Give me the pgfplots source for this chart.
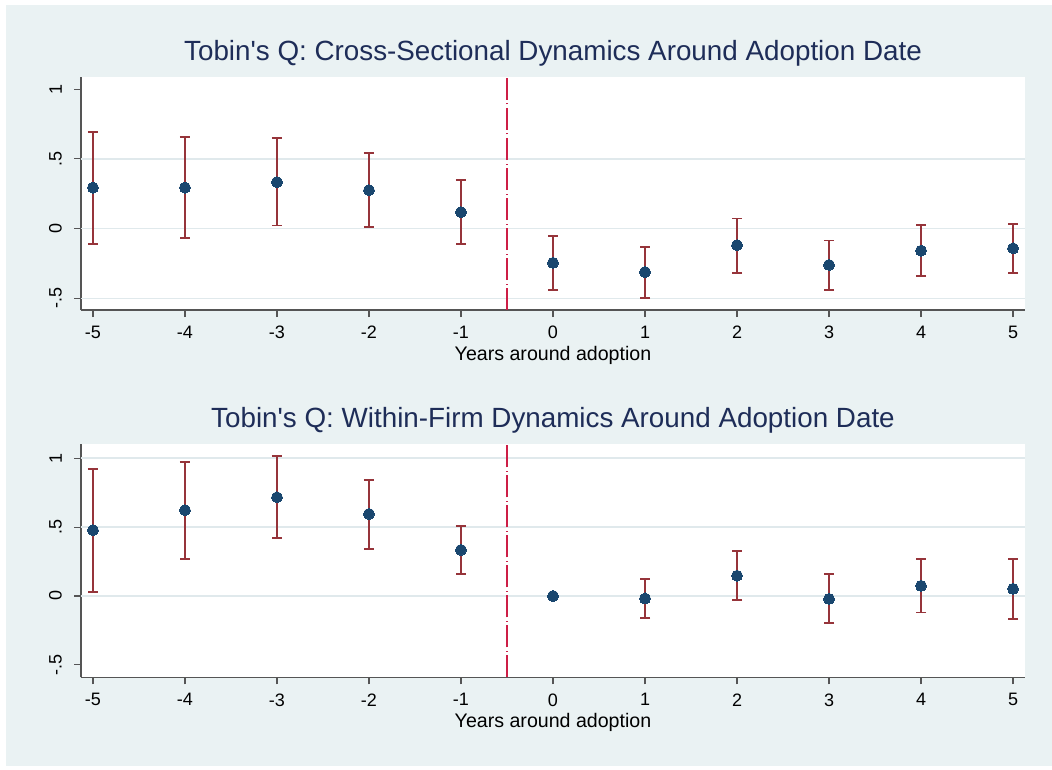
\documentclass[border=0pt]{standalone}
\usepackage{pgfplots}
\pgfplotsset{compat=1.18}
\usepackage{pgfplotstable}
\usepackage{fontspec}
\setmainfont{Liberation Sans}[Ligatures=TeXOff]
\definecolor{bgc}{RGB}{234,242,243}
\definecolor{gridc}{RGB}{224,233,236}
\definecolor{axisc}{RGB}{85,85,85}
\definecolor{navyc}{RGB}{26,71,111}
\definecolor{maroonc}{RGB}{150,52,58}
\definecolor{cranc}{RGB}{205,30,70}
\definecolor{titlec}{RGB}{30,45,88}

\pgfplotstableread{
x y ep em
-5 0.294 0.400 0.402
-4 0.294 0.364 0.363
-3 0.333 0.315 0.311
-2 0.275 0.266 0.265
-1 0.118 0.229 0.226
0 -0.245 0.194 0.194
1 -0.311 0.180 0.184
2 -0.119 0.191 0.197
3 -0.260 0.175 0.179
4 -0.158 0.185 0.184
5 -0.141 0.173 0.175
}\topdata

\pgfplotstableread{
x y ep em
-5 0.477 0.447 0.448
-4 0.622 0.350 0.354
-3 0.716 0.298 0.297
-2 0.595 0.249 0.252
-1 0.334 0.174 0.177
0 0.000 0.000 0.000
1 -0.018 0.139 0.140
2 0.147 0.177 0.177
3 -0.021 0.178 0.173
4 0.074 0.194 0.194
5 0.052 0.214 0.217
}\botdata

\pgfplotsset{
  stata/.style={
    scale only axis, width=944pt, height=233.5pt,
    xmin=-5.13, xmax=5.13,
    axis x line*=bottom, axis y line*=left,
    axis line style={draw=axisc, line width=1.1pt},
    axis background/.style={fill=white},
    tick align=outside, major tick length=7pt,
    tick style={draw=axisc, line width=1.1pt},
    xtick={-5,-4,-3,-2,-1,0,1,2,3,4,5},
    xticklabels={-5,-4,-3,-2,-1,0,1,2,3,4,5},
    xticklabel style={anchor=north, inner sep=0pt, yshift=-9pt, font=\fontsize{18}{21}\selectfont},
    yticklabel style={rotate=90, anchor=south, inner sep=0pt, xshift=0pt, yshift=12pt, font=\fontsize{18}{21}\selectfont},
    ymajorgrids=false, xmajorgrids=false,
    extra y tick style={grid=major},
    major grid style={draw=gridc, line width=1.6pt},
    xlabel={Years around adoption},
    xlabel style={at={(axis description cs:0.5,0)}, anchor=north, inner sep=0pt, yshift=-36pt, font=\fontsize{19.6}{22}\selectfont},
    title style={at={(axis description cs:0.5,1)}, anchor=base, inner sep=0pt, yshift=10.5pt, font=\fontsize{27.8}{32}\selectfont, text=titlec},
    clip=false,
  },
  ebars/.style={
    draw=none, mark=none, forget plot,
    error bars/.cd, y dir=both, y explicit,
    error bar style={draw=maroonc, line width=1.8pt},
    error mark options={draw=maroonc, line width=1.8pt, mark size=5pt, rotate=90},
  },
  dots/.style={only marks, mark=*, mark size=5.5pt, mark options={fill=navyc, draw=navyc, line width=0pt}},
  vline/.style={cranc, line width=2pt, dash pattern=on 22pt off 3.5pt on 1pt off 3.5pt, forget plot},
}

\begin{document}
\begin{tikzpicture}[x=1pt,y=1pt]
\fill[white] (0,0) rectangle (1052,-770);
\fill[bgc] (6,-5) rectangle (1052,-766);

\begin{axis}[stata, at={(81pt,-310pt)}, anchor=south west,
  ymin=-0.583, ymax=1.09,
  ytick={1}, yticklabels={1},
  extra y ticks={-0.5,0,0.5}, extra y tick labels={-.5,0,.5},
  title={Tobin's Q: Cross-Sectional Dynamics Around Adoption Date}]
\addplot[vline] coordinates {(-0.5,-0.583) (-0.5,1.09)};
\addplot[ebars] table[x=x, y=y, y error plus=ep, y error minus=em] {\topdata};
\addplot[dots] table[x=x, y=y] {\topdata};
\end{axis}

\begin{axis}[stata, at={(81pt,-677.3pt)}, anchor=south west,
  ymin=-0.590, ymax=1.104,
  ytick={-0.5}, yticklabels={-.5},
  extra y ticks={0,0.5,1}, extra y tick labels={0,.5,1},
  title={Tobin's Q: Within-Firm Dynamics Around Adoption Date}]
\addplot[vline] coordinates {(-0.5,-0.590) (-0.5,1.104)};
\addplot[skip coords between index={5}{6}, ebars] table[x=x, y=y, y error plus=ep, y error minus=em] {\botdata};
\addplot[dots] table[x=x, y=y] {\botdata};
\end{axis}

\pgfresetboundingbox
\useasboundingbox (0,0) rectangle (1052,-770);
\end{tikzpicture}
\end{document}
